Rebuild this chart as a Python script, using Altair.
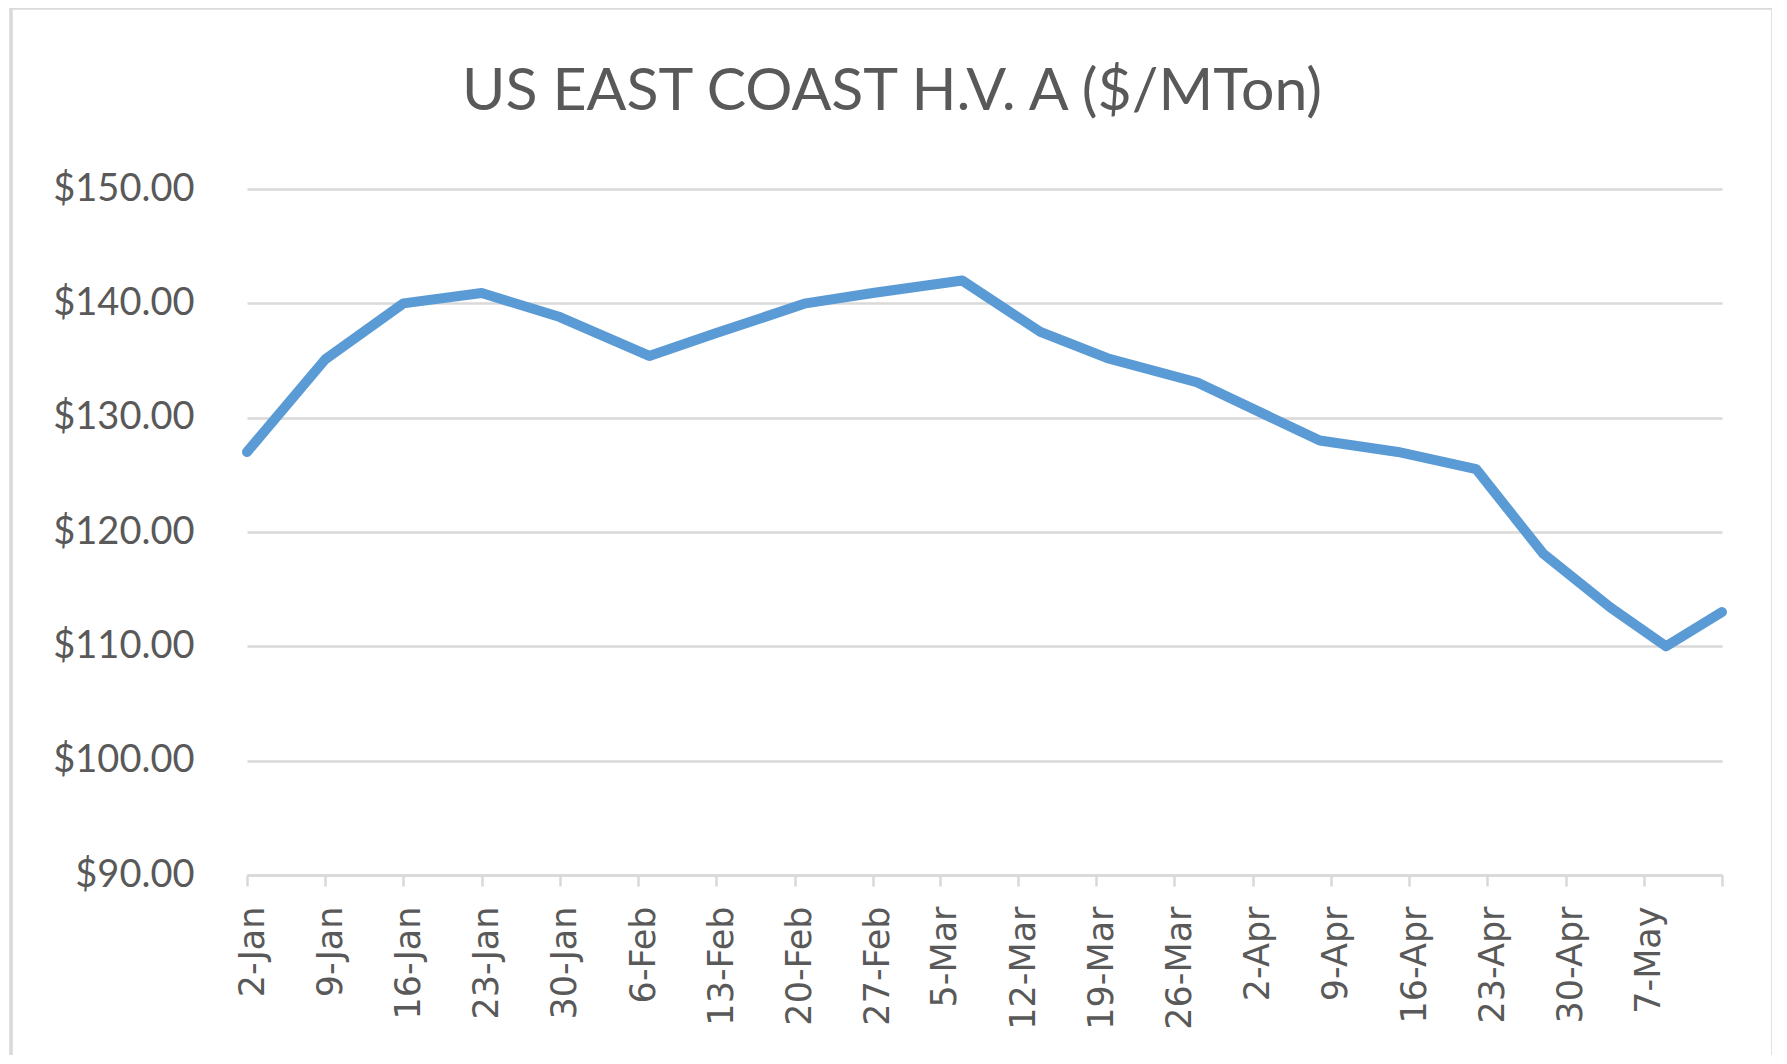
import altair as alt
import pandas as pd

# ---- data ----
DATES = [
    "2018-01-02", "2018-01-09", "2018-01-16", "2018-01-23", "2018-01-30",
    "2018-02-07", "2018-02-13", "2018-02-21", "2018-02-27", "2018-03-07",
    "2018-03-14", "2018-03-20", "2018-03-28", "2018-04-08", "2018-04-15",
    "2018-04-22", "2018-04-28", "2018-05-04", "2018-05-09", "2018-05-14",
]
PRICES = [
    127.0, 135.1, 140.0, 140.9, 138.8,
    135.4, 137.4, 140.0, 140.9, 142.0,
    137.5, 135.2, 133.1, 128.0, 127.0,
    125.5, 118.1, 113.4, 110.0, 113.0,
]
TICK_DATES = [
    "2018-01-02", "2018-01-09", "2018-01-16", "2018-01-23", "2018-01-30",
    "2018-02-06", "2018-02-13", "2018-02-20", "2018-02-27", "2018-03-05",
    "2018-03-12", "2018-03-19", "2018-03-26", "2018-04-02", "2018-04-09",
    "2018-04-16", "2018-04-23", "2018-04-30", "2018-05-07", "2018-05-14",
]
Y_TICKS = [90, 100, 110, 120, 130, 140, 150]
TITLE = "US EAST COAST H.V. A ($/MTon)"

df = pd.DataFrame({"date": DATES, "price": PRICES})

W, H = 1475, 686
PAD_L, PAD_T = 239, 181
GRAY = "#d9d9d9"
TXT = "#595959"


def dt(s):
    y, m, d = map(int, s.split("-"))
    return alt.DateTime(year=y, month=m, date=d, utc=True)


last_ms = int(pd.Timestamp(TICK_DATES[-1]).value // 10**6)

x_enc = alt.X(
    "date:T",
    scale=alt.Scale(type="utc", domain=[dt(TICK_DATES[0]), dt(TICK_DATES[-1])], nice=False),
    axis=alt.Axis(
        values=[dt(s) for s in TICK_DATES],
        labelExpr=f"datum.value >= {last_ms} ? '' : utcFormat(datum.value, '%-d-%b')",
        labelAngle=270,
        labelAlign="right",
        labelBaseline="middle",
        labelFont="DejaVu Sans",
        labelFontSize=35,
        labelColor=TXT,
        labelPadding=20,
        labelOffset=5,
        labelOverlap=False,
        labelBound=False,
        labelFlush=False,
        tickSize=11,
        tickColor=GRAY,
        tickWidth=2.5,
        domainColor=GRAY,
        domainWidth=2.5,
        grid=False,
        title=None,
    ),
)
y_enc = alt.Y(
    "price:Q",
    scale=alt.Scale(domain=[Y_TICKS[0], Y_TICKS[-1]], nice=False, zero=False),
    axis=alt.Axis(
        values=Y_TICKS,
        format="$.2f",
        labelFont="Lato",
        labelFontSize=38,
        labelColor=TXT,
        labelPadding=53,
        domain=False,
        ticks=False,
        grid=True,
        gridColor=GRAY,
        gridWidth=2.5,
        title=None,
    ),
)

line = alt.Chart(df).mark_line(
    color="#5b9bd5", strokeWidth=10, strokeCap="round", strokeJoin="round"
).encode(x=x_enc, y=y_enc)

one = pd.DataFrame({"k": [0]})
border = alt.Chart(one).mark_rect(
    fillOpacity=0, stroke=GRAY, strokeWidth=3.5
).encode(
    x=alt.value(-236), x2=alt.value(1526), y=alt.value(-181), y2=alt.value(950)
)

title = alt.Chart(one).mark_text(
    font="Lato", fontSize=59, color=TXT, align="center", baseline="alphabetic"
).encode(x=alt.value(645), y=alt.value(-79), text=alt.value(TITLE))

chart = (
    alt.layer(border, line, title)
    .properties(
        width=W,
        height=H,
        padding={"left": PAD_L, "top": PAD_T, "right": 50, "bottom": 180},
        autosize=alt.AutoSizeParams(type="none"),
        background="white",
    )
    .configure_view(stroke=None)
)

chart.save("out.html", embed_options={"renderer": "svg", "actions": False})
